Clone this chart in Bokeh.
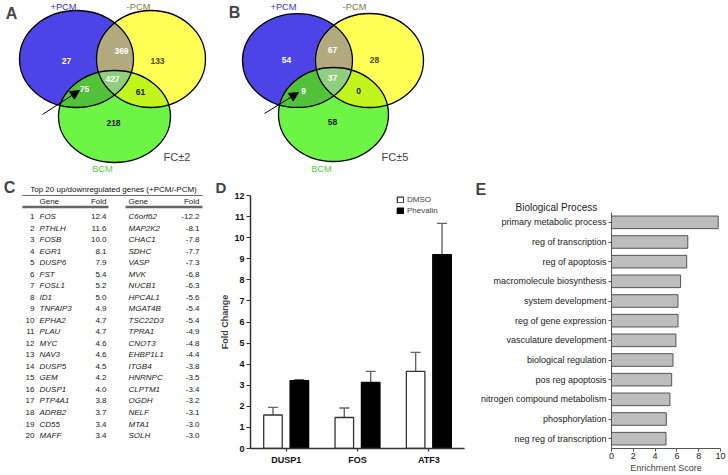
import numpy as np
from bokeh.plotting import figure
from bokeh.models import (Range1d, FactorRange, ColumnDataSource, Label, Arrow, NormalHead,
                          Whisker, TeeHead, Legend, LegendItem, FixedTicker, Title)
from bokeh.layouts import column, row
from bokeh.transform import dodge
from bokeh.core.properties import value
from bokeh.embed import file_html
from bokeh.resources import INLINE

FONT = "Liberation Sans"

# ---------------- data ----------------
venn_regions = ["+PCM only", "-PCM only", "+PCM & -PCM", "all three",
                "+PCM & BCM", "-PCM & BCM", "BCM only"]
fc2_counts = [27, 133, 369, 427, 75, 61, 218]
fc5_counts = [54, 28, 67, 37, 9, 0, 58]
set_labels = ["+PCM", "-PCM", "BCM"]

rank = list(range(1, 21))
up_genes = ["FOS", "PTHLH", "FOSB", "EGR1", "DUSP6", "FST", "FOSL1", "ID1", "TNFAIP3", "EPHA2",
            "PLAU", "MYC", "NAV3", "DUSP5", "GEM", "DUSP1", "PTP4A1", "ADRB2", "CD55", "MAFF"]
up_fold = [12.4, 11.6, 10.0, 8.1, 7.9, 5.4, 5.2, 5.0, 4.9, 4.7,
           4.7, 4.6, 4.6, 4.5, 4.2, 4.0, 3.8, 3.7, 3.4, 3.4]
down_genes = ["C6orf62", "MAP2K2", "CHAC1", "SDHC", "VASP", "MVK", "NUCB1", "HPCAL1", "MGAT4B", "TSC22D3",
              "TPRA1", "CNOT3", "EHBP1L1", "ITGB4", "HNRNPC", "CLPTM1", "OGDH", "NELF", "MTA1", "SOLH"]
down_fold = [-12.2, -8.1, -7.8, -7.7, -7.3, -6.8, -6.3, -5.6, -5.4, -5.4,
             -4.9, -4.8, -4.4, -3.8, -3.5, -3.4, -3.2, -3.1, -3.0, -3.0]

qpcr_genes = ["DUSP1", "FOS", "ATF3"]
dmso_mean = [1.59, 1.47, 3.66]
dmso_err = [0.36, 0.45, 0.90]
phev_mean = [3.22, 3.13, 9.20]
phev_err = [0.04, 0.53, 1.48]

go_terms = ["primary metabolic process", "reg of transcription", "reg of apoptosis",
            "macromolecule biosynthesis", "system development", "reg of gene expression",
            "vasculature development", "biological regulation", "pos reg apoptosis",
            "nitrogen compound metabolism", "phosphorylation", "neg reg of transcription"]
go_scores = [9.79, 7.0, 6.9, 6.34, 6.1, 6.1, 5.91, 5.64, 5.52, 5.36, 5.03, 5.0]

# ---------------- Venn panel (A, B) ----------------
def ell_pts(e, n=900):
    cx, cy, w, h = e
    t = np.linspace(0, 2 * np.pi, n, endpoint=False)
    return cx + w / 2 * np.cos(t), cy + h / 2 * np.sin(t)

def inside(x, y, e):
    cx, cy, w, h = e
    return ((x - cx) / (w / 2)) ** 2 + ((y - cy) / (h / 2)) ** 2 <= 1.0

def region(es):
    xs, ys = [], []
    for i, e in enumerate(es):
        x, y = ell_pts(e)
        m = np.ones_like(x, dtype=bool)
        for j, o in enumerate(es):
            if j != i:
                m &= inside(x, y, o)
        xs.append(x[m]); ys.append(y[m])
    x = np.concatenate(xs); y = np.concatenate(ys)
    a = np.arctan2(y - y.mean(), x - x.mean())
    o = np.argsort(a)
    return list(x[o]), list(y[o])

C_BLUE, C_YEL, C_GRN = "#4c44e6", "#ffff55", "#6df546"
C_BY, C_BG, C_YG, C_BYG = "#b2aa7e", "#52c23a", "#c2f51e", "#90cf7e"
num_colors = ["white", "#4d4d00", "white", "white", "white", "#1a1a1a", "#1a1a1a"]

TOP_H = 176
pV = figure(width=728, height=TOP_H, x_range=Range1d(0, 728), y_range=Range1d(TOP_H, 0),
            toolbar_location=None, output_backend="svg", min_border=0, frame_align=False,
            outline_line_color=None, x_axis_type=None, y_axis_type=None)
pV.grid.visible = False

venns = [
    dict(ells=[(76, 58.5, 114, 97), (150.5, 58.5, 109, 97), (114, 116, 112, 92)],
         counts=fc2_counts,
         pos=[(66, 60), (157, 60), (121, 50), (112, 78), (84, 88), (140, 91), (113, 122)],
         lab=[(63, 6.5), (138, 6.5), (102, 168)], letter=("A", 11, 12.5),
         fc=("FC\u00b12", 176.5, 156), arrow=((42, 114), (79, 90))),
    dict(ells=[(297, 60, 110, 94), (369, 60, 108, 94), (333, 114, 110, 94)],
         counts=fc5_counts,
         pos=[(286, 59), (374, 59), (332, 49), (332, 77), (303, 90), (358, 90), (332, 121)],
         lab=[(283, 6.5), (354, 6.5), (321, 168)], letter=("B", 234, 12),
         fc=("FC\u00b15", 394.5, 156), arrow=((264, 113), (298, 92))),
]

for v in venns:
    eb, ey, eg = v["ells"]
    for e, c in ((eb, C_BLUE), (ey, C_YEL)):
        pV.ellipse(x=e[0], y=e[1], width=e[2], height=e[3], fill_color=c, line_color=None)
    xs, ys = region([eb, ey]); pV.patch(xs, ys, fill_color=C_BY, line_color=None)
    pV.ellipse(x=eg[0], y=eg[1], width=eg[2], height=eg[3], fill_color=C_GRN, line_color=None)
    xs, ys = region([eb, eg]); pV.patch(xs, ys, fill_color=C_BG, line_color=None)
    xs, ys = region([ey, eg]); pV.patch(xs, ys, fill_color=C_YG, line_color=None)
    xs, ys = region([eb, ey, eg]); pV.patch(xs, ys, fill_color=C_BYG, line_color=None)
    for e in v["ells"]:
        pV.ellipse(x=e[0], y=e[1], width=e[2], height=e[3], fill_color=None,
                   line_color="black", line_width=1.3)
    src = ColumnDataSource(dict(x=[p[0] for p in v["pos"]], y=[p[1] for p in v["pos"]],
                                t=[str(c) for c in v["counts"]], c=num_colors))
    pV.text(x="x", y="y", text="t", text_color="c", source=src, text_font=value(FONT),
            text_font_size="8.5px", text_font_style="bold", text_align="center",
            text_baseline="middle")
    for (lx, ly), name, col in zip(v["lab"], set_labels, ["#3a33d6", "#85803a", "#4fcf3c"]):
        pV.add_layout(Label(x=lx, y=ly, text=name, text_color=col, text_font=FONT,
                            text_font_size="9.3px", text_align="center", text_baseline="middle"))
    L, lx, ly = v["letter"]
    pV.add_layout(Label(x=lx, y=ly, text=L, text_font=FONT, text_font_size="16px",
                        text_font_style="bold", text_align="center", text_baseline="middle"))
    t, fx, fy = v["fc"]
    pV.add_layout(Label(x=fx, y=fy, text=t, text_font=FONT, text_font_size="11px",
                        text_align="center", text_baseline="middle"))
    (ax0, ay0), (ax1, ay1) = v["arrow"]
    pV.add_layout(Arrow(end=NormalHead(size=9, fill_color="black", line_color="black"),
                        x_start=ax0, y_start=ay0, x_end=ax1, y_end=ay1,
                        line_color="black", line_width=1))

# ---------------- Table panel (C) ----------------
ROW2_H = 475 - TOP_H
pC = figure(width=205, height=ROW2_H, x_range=Range1d(0, 205), y_range=Range1d(475, TOP_H),
            toolbar_location=None, output_backend="svg", min_border=0, frame_align=False,
            outline_line_color=None, x_axis_type=None, y_axis_type=None)
pC.grid.visible = False

row_y = [216 + (r - 1) * 11.53 for r in rank]
srcC = ColumnDataSource(dict(y=row_y, r=[str(r) for r in rank], ug=up_genes,
                             uf=["%.1f" % f for f in up_fold], dg=down_genes,
                             df=["%.1f" % f for f in down_fold]))
common = dict(source=srcC, text_font=value(FONT), text_font_size="8px",
              text_baseline="middle", text_color="#222")
pC.text(x=34, y="y", text="r", text_align="right", **common)
pC.text(x=39, y="y", text="ug", text_align="left", text_font_style="italic", **common)
pC.text(x=106, y="y", text="uf", text_align="right", **common)
pC.text(x=128, y="y", text="dg", text_align="left", text_font_style="italic", **common)
pC.text(x=199, y="y", text="df", text_align="right", **common)

hdr = ColumnDataSource(dict(x=[39, 106, 128, 199], t=["Gene", "Fold", "Gene", "Fold"],
                            a=["left", "right", "left", "right"]))
pC.text(x="x", y=201, text="t", text_align="a", source=hdr, text_font=value(FONT),
        text_font_size="8px", text_baseline="middle", text_color="#222")
pC.add_layout(Label(x=113, y=188.5, text="Top 20 up/downregulated genes (+PCM/-PCM)",
                    text_font=FONT, text_font_size="8px", text_align="center",
                    text_baseline="middle", text_color="#111"))
pC.segment(x0=[22], y0=[195], x1=[202], y1=[195], line_color="#444", line_width=0.8)
pC.segment(x0=[22, 125], y0=[206.5, 206.5], x1=[108, 202], y1=[206.5, 206.5],
           line_color="#666", line_width=2.4)
pC.add_layout(Label(x=9, y=187, text="C", text_font=FONT, text_font_size="16px",
                    text_font_style="bold", text_align="center", text_baseline="middle"))

# ---------------- qPCR panel (D) ----------------
pD = figure(width=265, height=ROW2_H, x_range=FactorRange(*qpcr_genes), y_range=Range1d(0, 12),
            toolbar_location=None, output_backend="svg", min_border_left=45,
            min_border_right=6, min_border_top=19, min_border_bottom=27,
            outline_line_color=None, frame_align=False, title=None)
pD.grid.visible = False
srcD = ColumnDataSource(dict(gene=qpcr_genes, dmso=dmso_mean,
                             dmso_hi=[m + e for m, e in zip(dmso_mean, dmso_err)],
                             phev=phev_mean,
                             phev_hi=[m + e for m, e in zip(phev_mean, phev_err)]))
OFF, BW = 0.185, 0.26
for off, lo, hi in ((-OFF, "dmso", "dmso_hi"), (OFF, "phev", "phev_hi")):
    pD.add_layout(Whisker(base=dodge("gene", off, range=pD.x_range), lower=lo, upper=hi,
                          source=srcD, dimension="height", line_color="#666", line_width=1.4,
                          upper_head=TeeHead(size=10, line_color="#666", line_width=1.4),
                          lower_head=None))
r1 = pD.vbar(x=dodge("gene", -OFF, range=pD.x_range), top="dmso", width=BW, source=srcD,
             fill_color="white", line_color="#333", line_width=1.3)
r2 = pD.vbar(x=dodge("gene", OFF, range=pD.x_range), top="phev", width=BW, source=srcD,
             fill_color="black", line_color="black", line_width=1.3)
pD.yaxis.ticker = FixedTicker(ticks=list(range(13)))
pD.yaxis.axis_label = "Fold Change"
for ax in (pD.xaxis, pD.yaxis):
    ax.axis_line_color = "#333"
    ax.axis_line_width = 1.5
    ax.major_tick_line_color = "#333"
    ax.major_tick_line_width = 1.2
    ax.major_tick_in = 0
    ax.minor_tick_line_color = None
    ax.major_label_text_font = FONT
    ax.major_label_text_font_size = "9px"
    ax.major_label_text_font_style = "bold"
    ax.major_label_text_color = "#111"
pD.yaxis.major_tick_out = 4
pD.yaxis.major_label_standoff = 2
pD.xaxis.major_tick_out = 3
pD.xaxis.major_label_standoff = 3
pD.yaxis.axis_label_text_font = FONT
pD.yaxis.axis_label_text_font_size = "9px"
pD.yaxis.axis_label_text_font_style = "bold"
pD.yaxis.axis_label_standoff = 1
leg = Legend(items=[LegendItem(label="DMSO", renderers=[r1]),
                    LegendItem(label="Phevalin", renderers=[r2])],
             location=(146, 233), border_line_color=None, background_fill_alpha=0,
             padding=0, margin=0, spacing=2, glyph_height=7, glyph_width=8,
             label_height=7, label_standoff=3, label_text_font=FONT,
             label_text_font_size="8px")
pD.add_layout(leg)
pD.add_layout(Title(text="D", text_font=FONT, text_font_size="15px", text_font_style="bold",
                    align="left", offset=-35, standoff=0), "above")

# ---------------- GO panel (E) ----------------
pE = figure(width=258, height=ROW2_H, y_range=FactorRange(*reversed(go_terms)),
            x_range=Range1d(0, 10), toolbar_location=None, output_backend="svg",
            min_border_left=141, min_border_right=8, min_border_top=36,
            min_border_bottom=27, outline_line_color=None, frame_align=False, title=None)
pE.grid.visible = False
srcE = ColumnDataSource(dict(term=go_terms, score=go_scores))
pE.hbar(y="term", left=0, right="score", height=0.64, source=srcE,
        fill_color="#bdbdbd", line_color="#555", line_width=1)
pE.xaxis.ticker = FixedTicker(ticks=[0, 2, 4, 6, 8, 10])
pE.xaxis.axis_label = "Enrichment Score"
for ax in (pE.xaxis, pE.yaxis):
    ax.axis_line_color = "#555"
    ax.major_tick_line_color = "#555"
    ax.major_tick_in = 0
    ax.major_tick_out = 3
    ax.minor_tick_line_color = None
    ax.major_label_text_font = FONT
    ax.major_label_text_font_size = "9px"
    ax.major_label_text_color = "#222"
    ax.major_label_standoff = 2
pE.xaxis.major_label_standoff = 1
pE.xaxis.axis_label_text_font = FONT
pE.xaxis.axis_label_text_font_size = "9px"
pE.xaxis.axis_label_text_font_style = "normal"
pE.xaxis.axis_label_standoff = 1
pE.add_layout(Title(text="Biological Process", text_font=FONT, text_font_size="10px",
                    text_font_style="normal", text_color="#222", align="left",
                    offset=-96, standoff=0), "above")
pE.add_layout(Title(text="E", text_font=FONT, text_font_size="16px", text_font_style="bold",
                    align="left", offset=-136, standoff=3), "above")

layout = column(pV, row(pC, pD, pE))
open("out.html", "w").write(file_html(layout, INLINE))
